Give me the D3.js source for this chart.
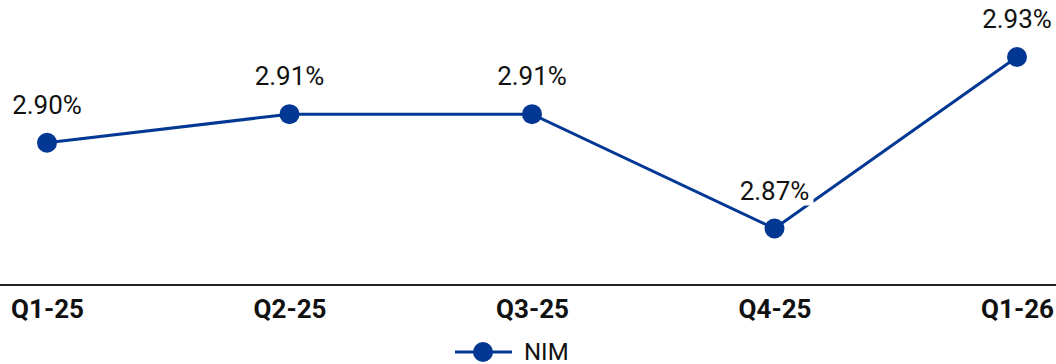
<!DOCTYPE html>
<html>
<head>
<meta charset="utf-8">
<script src="https://cdn.jsdelivr.net/npm/d3@7"></script>
<style>
	body { margin: 0; background: #fff; }
	svg { display: block; font-family: Roboto, sans-serif; }
</style>
</head>
<body>
<svg id="svg"></svg>
<script>
const quarters = ['Q1-25', 'Q2-25', 'Q3-25', 'Q4-25', 'Q1-26'];
const nimValues = [2.90, 2.91, 2.91, 2.87, 2.93];
const seriesName = 'NIM';

const width = 1056;
const height = 364;
const lineColor = '#023893';

const svg = d3.select('#svg').attr('width', width).attr('height', height);

// x positions of the quarter points
const x = d3.scalePoint()
	.domain(quarters)
	.range([47, 1017]);

const y = d3.scaleLinear()
	.domain([2.87, 2.93])
	.range([228.5, 57]);

// axis baseline + bold quarter labels
const xAxis = svg.append('g')
	.attr('transform', 'translate(0, 285)')
	.call(d3.axisBottom(x).tickSize(0).tickPadding(15));
xAxis.select('.domain')
	.attr('d', 'M0,0H' + width)
	.attr('stroke', '#222')
	.attr('stroke-width', 2);
xAxis.selectAll('text')
	.attr('font-size', 26)
	.attr('font-weight', 'bold')
	.attr('font-family', 'Roboto, sans-serif')
	.attr('fill', '#111');

const points = quarters.map((q, i) => ({ q: q, v: nimValues[i] }));

const line = d3.line()
	.x(d => x(d.q))
	.y(d => y(d.v));

svg.append('path')
	.datum(points)
	.attr('fill', 'none')
	.attr('stroke', lineColor)
	.attr('stroke-width', 3)
	.attr('d', line);

// value labels sit on white boxes so the line doesn't show through
const labelG = svg.selectAll('g.label')
		.data(points)
		.enter()
	.append('g')
		.attr('class', 'label')
		.attr('transform', d => `translate(${x(d.q)}, ${y(d.v) - 38})`);

labelG.append('rect')
	.attr('x', -39)
	.attr('y', -15)
	.attr('width', 78)
	.attr('height', 30)
	.attr('fill', '#fff');

labelG.append('text')
	.attr('text-anchor', 'middle')
	.attr('dy', '0.35em')
	.attr('font-size', 26)
	.attr('fill', '#111')
	.text(d => d.v.toFixed(2) + '%');

svg.selectAll('circle.point')
		.data(points)
		.enter()
	.append('circle')
		.attr('class', 'point')
		.attr('cx', d => x(d.q))
		.attr('cy', d => y(d.v))
		.attr('r', 10)
		.attr('fill', lineColor);

// legend
const legend = svg.append('g')
	.attr('transform', 'translate(455, 352)');
legend.append('line')
	.attr('x1', 0)
	.attr('x2', 57)
	.attr('stroke', lineColor)
	.attr('stroke-width', 3);
legend.append('circle')
	.attr('cx', 28)
	.attr('r', 10)
	.attr('fill', lineColor);
legend.append('text')
	.attr('x', 69)
	.attr('dy', '0.35em')
	.attr('font-size', 24)
	.attr('fill', '#111')
	.text(seriesName);
</script>
</body>
</html>
